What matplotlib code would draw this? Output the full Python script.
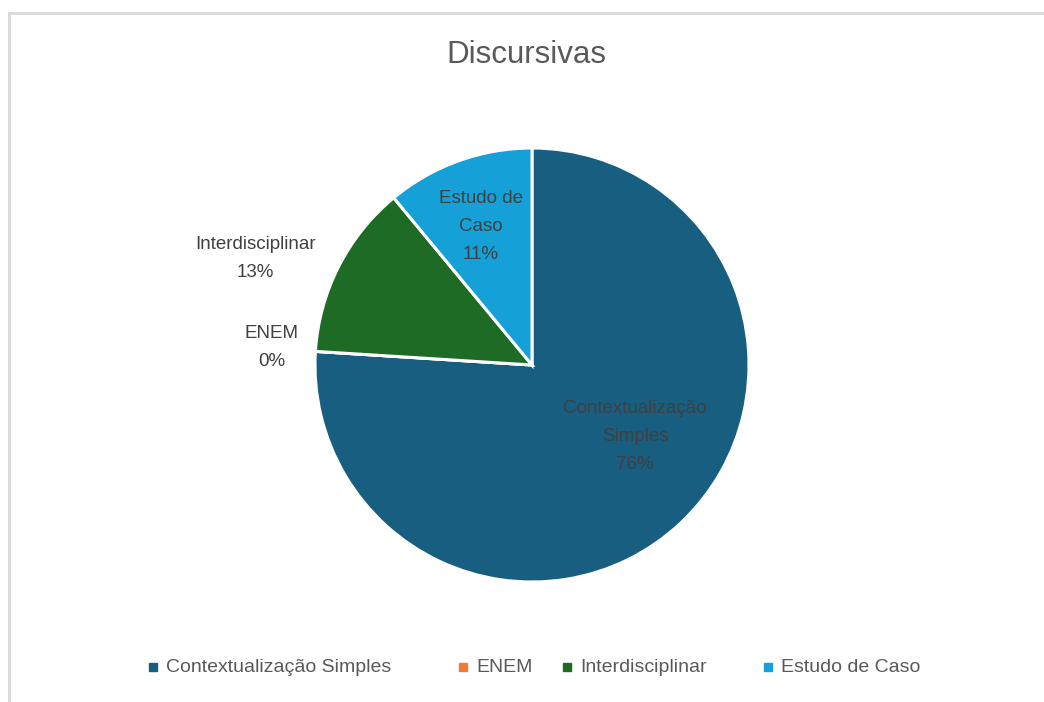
import matplotlib.pyplot as plt
from matplotlib.lines import Line2D

categories = ['Contextualização Simples', 'ENEM', 'Interdisciplinar', 'Estudo de Caso']
values = [76, 0, 13, 11]
colors = ['#175e80', '#ed7d31', '#1d6b24', '#15a0d8']

# label placement in pie-radius units (Excel "best fit")
label_pos = [(0.475, -0.33), (-1.2, 0.08), (-1.276, 0.49), (-0.235, 0.64)]
label_text = ['Contextualização\nSimples', 'ENEM', 'Interdisciplinar', 'Estudo de\nCaso']
legend_x = [153, 463, 567, 768]  # marker x in pixels

plt.rcParams['font.family'] = ['Liberation Sans', 'DejaVu Sans']

fig = plt.figure(figsize=(10.44, 7.02), dpi=100)
W, H = 1044, 702

# chart frame (top and left edge visible)
fig.add_artist(Line2D([9 / W, 9 / W], [0, 1 - 13 / H], color='#d9d9d9', lw=2))
fig.add_artist(Line2D([9 / W, 1], [1 - 13 / H, 1 - 13 / H], color='#d9d9d9', lw=2))

cx, cy, r = 532, 365, 217
ax = fig.add_axes([(cx - r) / W, (H - cy - r) / H, 2 * r / W, 2 * r / H])
wedges, _ = ax.pie(values, colors=colors, startangle=90, counterclock=False,
                   radius=1, wedgeprops=dict(edgecolor='white', linewidth=2.2))
ax.set_xlim(-1, 1)
ax.set_ylim(-1, 1)
ax.set_aspect('equal')
ax.axis('off')

total = sum(values)
for name, v, (x, y) in zip(label_text, values, label_pos):
    pct = '%d%%' % round(100 * v / total)
    ax.text(x, y, name + '\n' + pct, ha='center', va='center', fontsize=13.5,
            color='#404040', linespacing=1.85, clip_on=False)

fig.text(526 / W, 1 - 55 / H, 'Discursivas', ha='center', va='center',
         fontsize=22.5, color='#595959')

ly = 1 - 667 / H
for c, name, px in zip(colors, categories, legend_x):
    fig.add_artist(Line2D([px / W], [ly], marker='s', markersize=5.5,
                          markerfacecolor=c, markeredgecolor=c, linestyle='none'))
    fig.text((px + 13) / W, ly, name, ha='left', va='center', fontsize=14,
             color='#595959')

fig.savefig('out.png', dpi=100, facecolor='white')
